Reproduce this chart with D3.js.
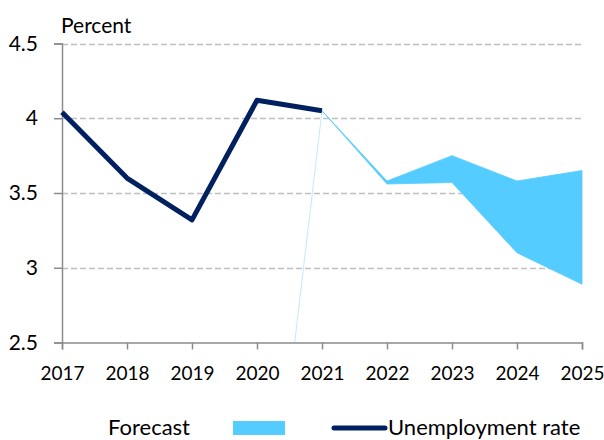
<!DOCTYPE html>
<html lang="en">
<head>
<meta charset="utf-8">
<title>Unemployment rate forecast</title>
<script src="https://d3js.org/d3.v7.min.js"></script>
<style>
  body { margin: 0; background: #fff; }
  text { font-family: Lato, "Open Sans", sans-serif; fill: #000; }
</style>
</head>
<body>
<script>
// data
var years = [2017, 2018, 2019, 2020, 2021];
var unemployment = [4.04, 3.60, 3.32, 4.12, 4.05];

var forecastYears = [2021, 2022, 2023, 2024, 2025];
var forecastLow = [4.05, 3.56, 3.57, 3.10, 2.89];
var forecastHigh = [4.05, 3.58, 3.75, 3.58, 3.65];

// thin stray line visible in the original
var strayYears = [2020.58, 2021];
var strayValues = [2.5, 4.05];

var xTicks = [2017, 2018, 2019, 2020, 2021, 2022, 2023, 2024, 2025];
var yTicks = [2.5, 3, 3.5, 4, 4.5];

var width = 604, height = 440;

var svg = d3.select("body").append("svg")
  .attr("width", width)
  .attr("height", height);

var x = d3.scaleLinear().domain([2017, 2025]).range([62, 582]);
var y = d3.scaleLinear().domain([2.5, 4.5]).range([342.5, 43.5]);

// gridlines
svg.append("g")
  .selectAll("line")
  .data(yTicks.filter(function(d){ return d > 2.5; }))
  .enter().append("line")
  .attr("x1", x(2017)).attr("x2", x(2025))
  .attr("y1", function(d){ return Math.round(y(d)) + 0.5; })
  .attr("y2", function(d){ return Math.round(y(d)) + 0.5; })
  .attr("stroke", "#bfbfbf")
  .attr("stroke-width", 1.5)
  .attr("stroke-dasharray", "6,3");

// forecast band
var band = forecastYears.map(function(d, i){
  return {year: d, lo: forecastLow[i], hi: forecastHigh[i]};
});
svg.append("path")
  .datum(band)
  .attr("d", d3.area()
    .x(function(d){ return x(d.year); })
    .y0(function(d){ return y(d.lo); })
    .y1(function(d){ return y(d.hi); }))
  .attr("fill", "#55ccff")
  .attr("stroke", "#55ccff")
  .attr("stroke-width", 0.8);

svg.append("path")
  .datum(strayYears.map(function(d, i){ return [d, strayValues[i]]; }))
  .attr("d", d3.line()
    .x(function(d){ return x(d[0]); })
    .y(function(d){ return y(d[1]); }))
  .attr("fill", "none")
  .attr("stroke", "#bfeaff")
  .attr("stroke-width", 1);

// axes
var yAxis = svg.append("g")
  .attr("transform", "translate(" + x(2017) + ",0)")
  .call(d3.axisLeft(y).tickValues(yTicks).tickSize(8).tickPadding(16)
    .tickFormat(function(d){ return d3.format("")(d); }));
yAxis.select(".domain").attr("stroke", "#8c8c8c").attr("stroke-width", 1.5);
yAxis.selectAll(".tick line").attr("stroke", "#8c8c8c").attr("stroke-width", 1.5);
yAxis.selectAll("text").attr("font-size", "21px").attr("fill", "#000")
  .style("font-family", "Lato, 'Open Sans', sans-serif");

var xAxis = svg.append("g")
  .attr("transform", "translate(0," + y(2.5) + ")")
  .call(d3.axisBottom(x).tickValues(xTicks).tickSize(7).tickPadding(17)
    .tickFormat(d3.format("d")));
xAxis.select(".domain").attr("stroke", "#8c8c8c").attr("stroke-width", 1.5);
xAxis.selectAll(".tick line").attr("stroke", "#8c8c8c").attr("stroke-width", 1.5);
xAxis.selectAll("text").attr("font-size", "19px").attr("fill", "#000")
  .style("font-family", "Lato, 'Open Sans', sans-serif");

// unemployment line
svg.append("path")
  .datum(years.map(function(d, i){ return [d, unemployment[i]]; }))
  .attr("d", d3.line()
    .x(function(d){ return x(d[0]); })
    .y(function(d){ return y(d[1]); }))
  .attr("fill", "none")
  .attr("stroke", "#002060")
  .attr("stroke-width", 5)
  .attr("stroke-linejoin", "round");

// unit label
svg.append("text")
  .attr("x", 61)
  .attr("y", 33)
  .attr("font-size", "21px")
  .text("Percent");

// legend
svg.append("text")
  .attr("x", 108).attr("y", 435)
  .attr("font-size", "22px")
  .text("Forecast");
svg.append("rect")
  .attr("x", 233).attr("y", 421)
  .attr("width", 52).attr("height", 14)
  .attr("fill", "#55ccff");
svg.append("line")
  .attr("x1", 334).attr("x2", 385)
  .attr("y1", 428).attr("y2", 428)
  .attr("stroke", "#002060")
  .attr("stroke-width", 5)
  .attr("stroke-linecap", "round");
svg.append("text")
  .attr("x", 388).attr("y", 435)
  .attr("font-size", "22px")
  .text("Unemployment rate");
</script>
</body>
</html>
